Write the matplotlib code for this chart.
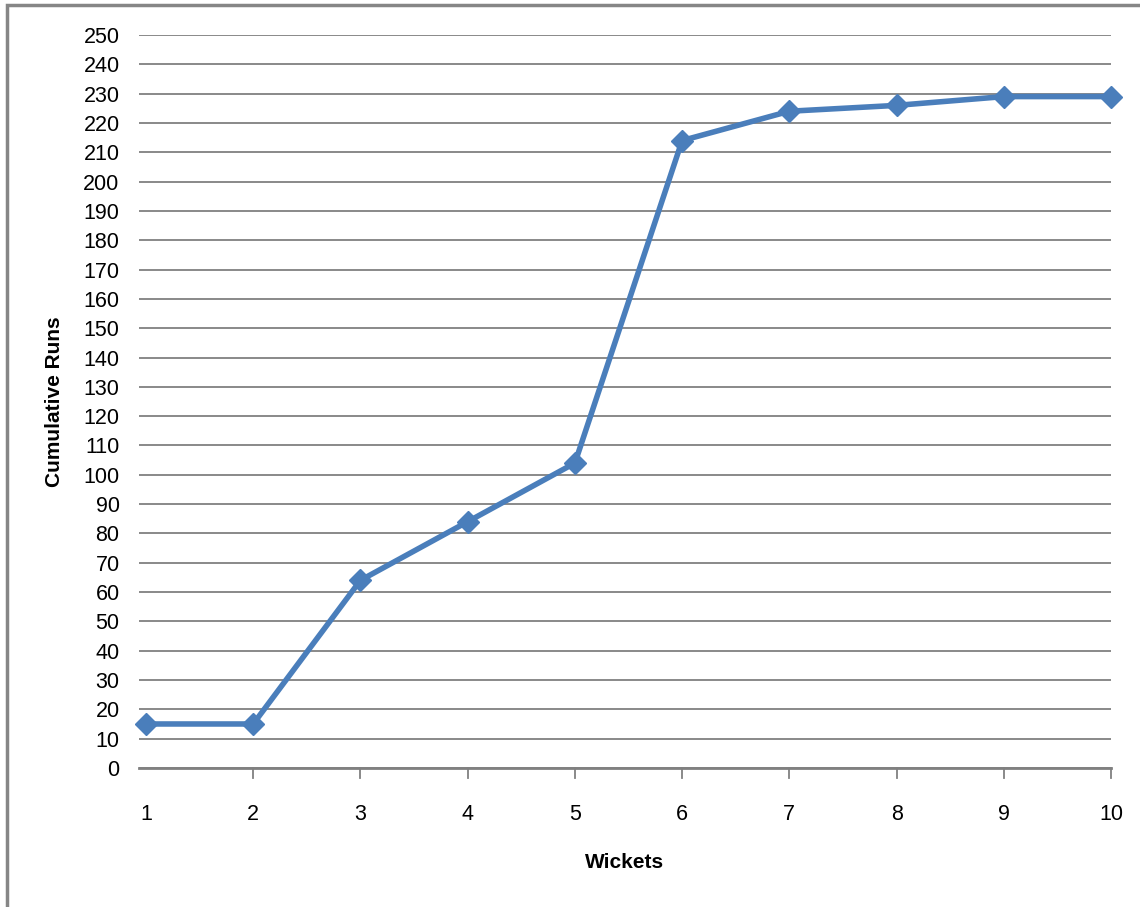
import matplotlib.pyplot as plt
from matplotlib.patches import Rectangle

wickets = [1, 2, 3, 4, 5, 6, 7, 8, 9, 10]
runs = [15, 15, 64, 84, 104, 214, 224, 226, 229, 229]
y_ticks = list(range(0, 251, 10))

plt.rcParams['font.family'] = ['Liberation Sans', 'DejaVu Sans']


def draw_chart():
    fig = plt.figure(figsize=(11.4, 9.07), dpi=100)
    ax = fig.add_axes([0.1219, 0.1533, 0.8527, 0.8081])

    # outer chart frame
    fig.patches.append(Rectangle((7 / 1140, -0.05), 1.1, 1 - 5 / 907 + 0.05,
                                 transform=fig.transFigure, fill=False,
                                 edgecolor='#868686', linewidth=2.5))

    ax.plot(wickets, runs, color='#4A7EBB', linewidth=4, marker='D',
            markersize=11, zorder=3, clip_on=False)

    ax.set_xlim(1 - 7 / 107, 10)
    ax.set_ylim(0, 250)
    ax.set_yticks(y_ticks)
    ax.set_xticks(wickets)
    ax.grid(axis='y', color='#808080', linewidth=1.3)
    ax.set_axisbelow(True)

    for side in ['left', 'right', 'top']:
        ax.spines[side].set_visible(False)
    ax.spines['bottom'].set_color('#808080')
    ax.spines['bottom'].set_linewidth(2)

    ax.tick_params(axis='y', length=0, pad=14, labelsize=15.5)
    ax.tick_params(axis='x', length=0, pad=26, labelsize=15.5)
    # tick marks under the axis at each category after the first
    for x in wickets[1:]:
        ax.plot([x, x], [0, -3.5], color='#808080', linewidth=1.3,
                clip_on=False, zorder=1)

    ax.set_xlabel('Wickets', fontsize=15, fontweight='bold', labelpad=20)
    ax.set_ylabel('Cumulative Runs', fontsize=15, fontweight='bold', labelpad=14)

    fig.savefig('out.png', dpi=100)


def main():
    draw_chart()


if __name__ == '__main__':
    main()
